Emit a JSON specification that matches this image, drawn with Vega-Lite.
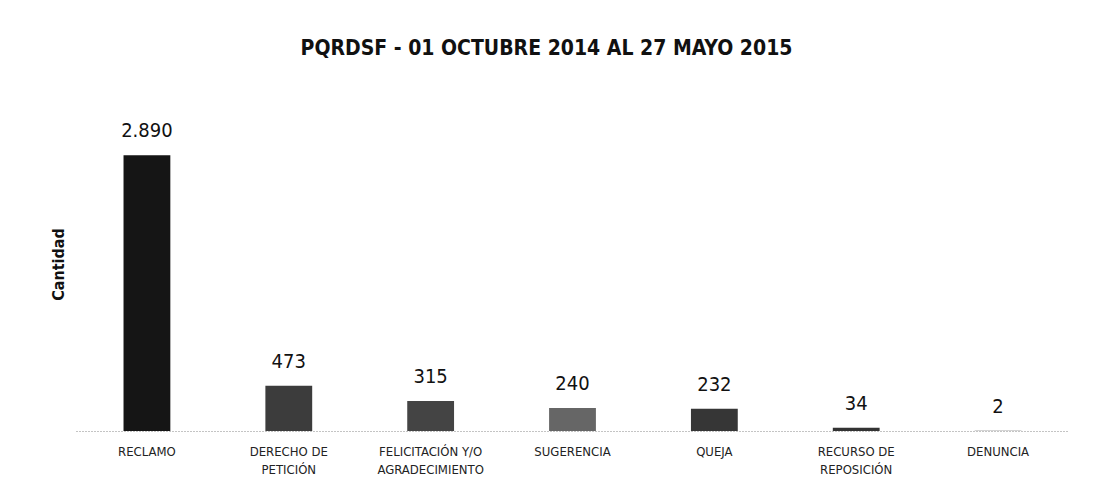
{
  "$schema": "https://vega.github.io/schema/vega-lite/v6.json",
  "width": 993,
  "height": 334,
  "autosize": {"type": "none"},
  "padding": {"left": 76, "top": 97, "right": 24, "bottom": 69},
  "background": "white",
  "config": {
    "view": {"stroke": null},
    "font": "DejaVu Sans Condensed, Liberation Sans, sans-serif",
    "locale": {"number": {"decimal": ",", "thousands": ".", "grouping": [3], "currency": ["$", ""]}}
  },
  "title": {
    "text": "PQRDSF - 01 OCTUBRE 2014 AL 27 MAYO 2015",
    "fontSize": 21,
    "fontWeight": "bold",
    "font": "DejaVu Sans Condensed, Liberation Sans, sans-serif",
    "color": "#111",
    "anchor": "middle",
    "dx": -26,
    "offset": 38
  },
  "data": {
    "values": [
      {"tipo": "RECLAMO", "cantidad": 2890},
      {"tipo": "DERECHO DE PETICIÓN", "cantidad": 473},
      {"tipo": "FELICITACIÓN Y/O AGRADECIMIENTO", "cantidad": 315},
      {"tipo": "SUGERENCIA", "cantidad": 240},
      {"tipo": "QUEJA", "cantidad": 232},
      {"tipo": "RECURSO DE REPOSICIÓN", "cantidad": 34},
      {"tipo": "DENUNCIA", "cantidad": 2}
    ]
  },
  "encoding": {
    "x": {
      "field": "tipo",
      "type": "nominal",
      "sort": null,
      "scale": {"paddingInner": 0.67, "paddingOuter": 0.335},
      "axis": {
        "title": null,
        "labelAngle": 0,
        "ticks": false,
        "labelPadding": 14,
        "labelFontSize": 13,
        "labelColor": "#222",
        "labelFont": "DejaVu Sans Condensed, Liberation Sans, sans-serif",
        "labelLineHeight": 18,
        "domainColor": "#888",
        "domainDash": [1, 2],
        "domainWidth": 1,
        "labelExpr": "datum.value == 'DERECHO DE PETICIÓN' ? ['DERECHO DE', 'PETICIÓN'] : datum.value == 'FELICITACIÓN Y/O AGRADECIMIENTO' ? ['FELICITACIÓN Y/O', 'AGRADECIMIENTO'] : datum.value == 'RECURSO DE REPOSICIÓN' ? ['RECURSO DE', 'REPOSICIÓN'] : datum.value"
      }
    },
    "y": {
      "field": "cantidad",
      "type": "quantitative",
      "scale": {"domain": [0, 3500]},
      "axis": {
        "title": "Cantidad",
        "titleFontSize": 16,
        "titleFontWeight": "bold",
        "titleFont": "DejaVu Sans Condensed, Liberation Sans, sans-serif",
        "titleColor": "#111",
        "titlePadding": 10,
        "labels": false,
        "ticks": false,
        "domain": false,
        "grid": false
      }
    }
  },
  "layer": [
    {
      "mark": {"type": "bar"},
      "encoding": {
        "color": {
          "field": "tipo",
          "type": "nominal",
          "legend": null,
          "scale": {
            "domain": ["RECLAMO", "DERECHO DE PETICIÓN", "FELICITACIÓN Y/O AGRADECIMIENTO", "SUGERENCIA", "QUEJA", "RECURSO DE REPOSICIÓN", "DENUNCIA"],
            "range": ["#151515", "#3c3c3c", "#444444", "#666666", "#363636", "#333333", "#555555"]
          }
        }
      }
    },
    {
      "mark": {"type": "text", "baseline": "bottom", "dy": -14, "fontSize": 20, "font": "DejaVu Sans Condensed, Liberation Sans, sans-serif", "color": "#111"},
      "encoding": {
        "text": {"field": "cantidad", "type": "quantitative", "format": ",d"}
      }
    }
  ]
}
